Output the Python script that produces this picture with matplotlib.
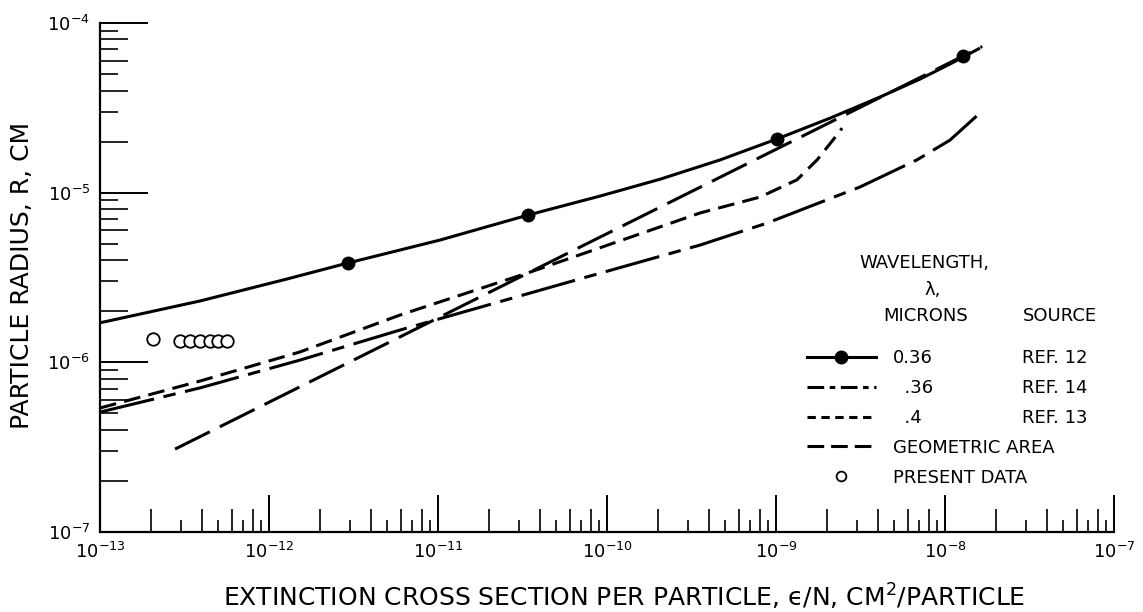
import matplotlib
matplotlib.use("Agg")
import matplotlib.pyplot as plt
from matplotlib.lines import Line2D
from matplotlib.ticker import NullFormatter, NullLocator, FixedLocator

# values (log-log)
# ref. 12, 0.36 micron (solid line with dots)
ref12_x = [1.0e-13, 3.91e-13, 1.28e-12, 2.93e-12, 1.03e-11, 3.41e-11, 9.10e-11,
           2.06e-10, 4.67e-10, 1.01e-9, 2.09e-9, 4.12e-9, 7.11e-9, 1.07e-8, 1.61e-8]
ref12_y = [1.71e-6, 2.30e-6, 3.10e-6, 3.85e-6, 5.26e-6, 7.38e-6, 9.55e-6,
           1.20e-5, 1.56e-5, 2.07e-5, 2.75e-5, 3.66e-5, 4.67e-5, 5.73e-5, 7.11e-5]
ref12_dot_x = [2.93e-12, 3.41e-11, 1.01e-9, 1.28e-8]
ref12_dot_y = [3.85e-6, 7.38e-6, 2.07e-5, 6.4e-5]

# ref. 14, .36 micron (long-short dash)
ref14_x = [1.0e-13, 3.91e-13, 1.52e-12, 5.96e-12, 7.21e-11, 3.55e-10,
           8.86e-10, 3.14e-9, 6.82e-9, 1.07e-8, 1.66e-8]
ref14_y = [5.09e-7, 7.07e-7, 1.03e-6, 1.55e-6, 3.14e-6, 4.91e-6,
           6.62e-6, 1.08e-5, 1.56e-5, 2.04e-5, 3.03e-5]

# ref. 13, .4 micron (short dash)
ref13_x = [1.0e-13, 3.91e-13, 1.52e-12, 5.96e-12, 3.50e-11, 3.55e-10,
           8.04e-10, 1.33e-9, 1.75e-9, 2.17e-9, 2.46e-9]
ref13_y = [5.38e-7, 7.76e-7, 1.15e-6, 1.90e-6, 3.40e-6, 7.59e-6,
           9.42e-6, 1.19e-5, 1.56e-5, 2.04e-5, 2.40e-5]

# geometric area (long dash, straight in log-log)
geo_x = [2.78e-13, 1.66e-8]
geo_y = [3.08e-7, 7.27e-5]

# present data (open circles)
present_x = [2.06e-13, 2.97e-13, 3.41e-13, 3.91e-13, 4.48e-13, 4.99e-13, 5.64e-13]
present_y = [1.37e-6, 1.33e-6, 1.33e-6, 1.33e-6, 1.33e-6, 1.33e-6, 1.33e-6]

wl_labels = ["0.36", "\u2007.36", "\u2007.4", "GEOMETRIC AREA", "PRESENT DATA"]
source_labels = ["REF. 12", "REF. 14", "REF. 13"]

plt.rcParams['font.family'] = ['DejaVu Sans']
plt.rcParams['lines.scale_dashes'] = False

W, H = 1143, 612
fig = plt.figure(figsize=(W / 100, H / 100), dpi=100)
ax = fig.add_axes([100 / W, (H - 532) / H, (1114 - 100) / W, (532 - 23) / H])

lw = 2.2
ax.plot(ref12_x, ref12_y, color='k', lw=lw, solid_capstyle='butt')
ax.plot(ref12_dot_x, ref12_dot_y, 'o', color='k', ms=9)
ax.plot(ref14_x, ref14_y, color='k', lw=lw, dashes=(40, 7, 9, 7))
ax.plot(ref13_x, ref13_y, color='k', lw=lw, dashes=(12, 6))
ax.plot(geo_x, geo_y, color='k', lw=lw, dashes=(28, 8))
ax.plot(present_x, present_y, 'o', mfc='white', mec='k', mew=1.3, ms=9)

ax.set_xscale('log')
ax.set_yscale('log')
ax.set_xlim(1e-13, 1e-7)
ax.set_ylim(1e-7, 1e-4)

for s in ['top', 'right']:
    ax.spines[s].set_visible(False)
for s in ['bottom', 'left']:
    ax.spines[s].set_linewidth(1.6)

# tick positions: decades, long minors at 2,4,6,8 and short minors at 3,5,7,9
x_dec = [10.0 ** e for e in range(-13, -6)]
y_dec = [10.0 ** e for e in range(-7, -3)]
even_x = [k * d for d in x_dec[:-1] for k in (2, 4, 6, 8)]
odd_x = [k * d for d in x_dec[:-1] for k in (3, 5, 7, 9)]
even_y = [k * d for d in y_dec[:-1] for k in (2, 4, 6, 8)]
odd_y = [k * d for d in y_dec[:-1] for k in (3, 5, 7, 9)]

ax.xaxis.set_major_locator(FixedLocator(x_dec))
ax.yaxis.set_major_locator(FixedLocator(y_dec))
ax.xaxis.set_minor_locator(FixedLocator(even_x))
ax.yaxis.set_minor_locator(FixedLocator(even_y))
ax.xaxis.set_minor_formatter(NullFormatter())
ax.yaxis.set_minor_formatter(NullFormatter())
ax.tick_params(axis='x', which='major', direction='in', length=27, width=1.4,
               labelsize=13, pad=7)
ax.tick_params(axis='x', which='minor', direction='in', length=16.5, width=1.2)
ax.tick_params(axis='y', which='major', direction='in', length=34.5, width=1.4,
               labelsize=13, pad=7)
ax.tick_params(axis='y', which='minor', direction='in', length=20, width=1.2)

# short odd minor ticks via secondary axes
secx = ax.secondary_xaxis('bottom')
secx.xaxis.set_major_locator(FixedLocator(odd_x))
secx.xaxis.set_minor_locator(NullLocator())
secx.tick_params(direction='in', length=8.6, width=1.2, labelbottom=False)
secx.spines['bottom'].set_visible(False)
secy = ax.secondary_yaxis('left')
secy.yaxis.set_major_locator(FixedLocator(odd_y))
secy.yaxis.set_minor_locator(NullLocator())
secy.tick_params(direction='in', length=13, width=1.2, labelleft=False)
secy.spines['left'].set_visible(False)

ax.set_xlabel('EXTINCTION CROSS SECTION PER PARTICLE, \u03f5/N, CM$^2$/PARTICLE',
              fontsize=18)
ax.xaxis.label.set_va('center')
ax.xaxis.set_label_coords((624 - 100) / (1114 - 100), -(597 - 532) / (532 - 23))
ax.set_ylabel('PARTICLE RADIUS, R, CM', fontsize=18)
ax.yaxis.label.set_va('center')
ax.yaxis.set_label_coords(-(100 - 22) / (1114 - 100), (532 - 275) / (532 - 23))

# legend block
handles = [
    Line2D([], [], color='k', lw=lw, marker='o', ms=9),
    Line2D([], [], color='k', lw=lw, dashes=(12, 4, 4, 4)),
    Line2D([], [], color='k', lw=lw, dashes=(6, 4)),
    Line2D([], [], color='k', lw=lw, dashes=(12, 5)),
    Line2D([], [], ls='none', marker='o', mfc='white', mec='k', mew=1.3, ms=7),
]
leg = ax.legend(handles, wl_labels, loc='upper left', frameon=False,
                bbox_to_anchor=(807 / W, 1 - 349 / H), bbox_transform=fig.transFigure,
                fontsize=13, handlelength=3.8, handletextpad=0.96,
                labelspacing=0.66, borderpad=0, borderaxespad=0)

fig.text(924 / W, 1 - 263 / H, 'WAVELENGTH,', ha='center', va='center', fontsize=13)
fig.text(933 / W, 1 - 290 / H, '\u03bb,', ha='center', va='center', fontsize=13)
fig.text(926 / W, 1 - 316 / H, 'MICRONS', ha='center', va='center', fontsize=13)
fig.text(1060 / W, 1 - 316 / H, 'SOURCE', ha='center', va='center', fontsize=13)

# put the source column on the same rows as the legend entries
fig.canvas.draw()
r = fig.canvas.get_renderer()
for t, src in zip(leg.get_texts(), source_labels):
    bb = t.get_window_extent(r)
    yc = (bb.y0 + bb.y1) / 2
    fig.text(1022 / W, yc / H, src, ha='left', va='center', fontsize=13)

fig.savefig('out.png', dpi=100, facecolor='white')
